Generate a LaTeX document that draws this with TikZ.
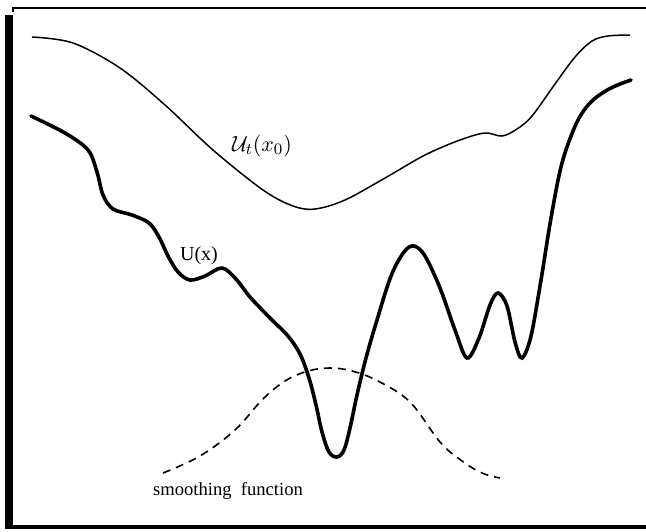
\documentclass[tikz,border=0pt]{standalone}
\usepackage{fontspec}
\setmainfont{Liberation Serif}
\usetikzlibrary{positioning}

\begin{document}
\begin{tikzpicture}[x=0.5pt, y=-0.5pt, every node/.style={font=\normalsize}, thinline/.style={black, line width=0.75pt}, thickline/.style={black, line width=1.8pt, line cap=round}, smoothline/.style={black, line width=0.8pt, dash pattern=on 4pt off 3pt}]
	\useasboundingbox (0,0) rectangle (646,531);
	% frame
	\draw[line width=0.8pt] (13,12) -- (13,8) -- (646,8);
	\fill (5,15) rectangle (13,529);
	\draw[line width=2pt] (5,527) -- (646,527);
	% smoothed energy
	\draw[thinline] plot[smooth, tension=0.55] coordinates {(32,37) (73,43) (120,68) (165,105) (213,150) (263,190) (293,206) (315,209) (345,200) (385,178) (425,155) (460,140) (485,133) (502,136) (517,129) (532,116) (555,84) (575,57) (592,41) (608,36) (630,35)};
	\node[font=\fontsize{11}{13}\selectfont] (ut) at (262,146) {$\mathcal{U}_t(x_0)$};
	% energy U(x)
	\draw[thickline] plot[smooth, tension=0.55] coordinates {(31,116) (65,133) (88,150) (97,172) (103,195) (113,209) (132,215) (149,223) (159,237) (168,256) (178,272) (190,280) (205,276) (222,268) (236,279) (250,297) (270,318) (288,336) (300,354) (309,378) (316,405) (322,432) (329,452) (337,457) (344,450) (350,428) (357,395) (366,358) (377,320) (391,276) (404,252) (414,246) (425,256) (440,288) (455,330) (467,358) (479,338) (490,305) (498,293) (507,306) (515,342) (522,358) (531,336) (541,280) (551,218) (562,163) (577,122) (592,101) (611,88) (631,80)};
	\node (ux) at (199,256) {U(x)};
	% smoothing function
	\draw[smoothline] plot[smooth, tension=0.6] coordinates {(163,473) (200,456) (235,430) (262,400) (285,381) (308,371) (330,368) (352,371) (378,381) (410,402) (440,442) (462,461) (482,473) (500,478)};
	\node[font=\fontsize{9.3}{11}\selectfont] (sf) at (228,491) {smoothing\hspace{0.5em}function};
\end{tikzpicture}
\end{document}
